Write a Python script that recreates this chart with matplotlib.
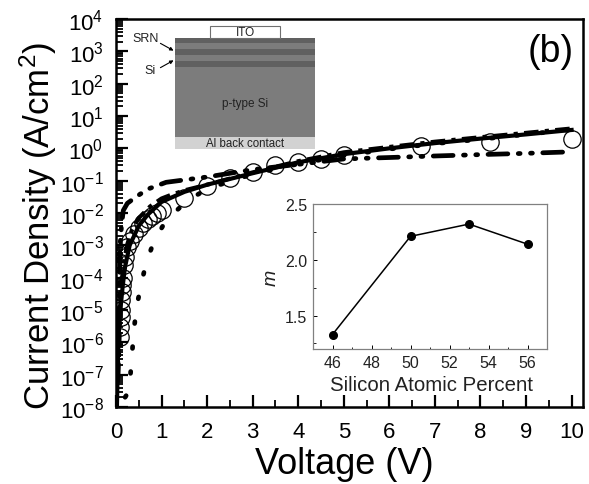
import matplotlib
matplotlib.use('Agg')
import matplotlib.pyplot as plt
import matplotlib.patches as mpatches
from matplotlib.ticker import LogLocator, MultipleLocator, NullFormatter, FixedLocator

plt.rcParams['font.family'] = ['Liberation Sans', 'DejaVu Sans']
plt.rcParams['mathtext.fontset'] = 'custom'
plt.rcParams['mathtext.rm'] = 'Liberation Sans'
plt.rcParams['mathtext.it'] = 'Liberation Sans:italic'

W, H = 589, 485

# main panel
solid_v = [0.02, 0.05, 0.08, 0.1, 0.15, 0.2, 0.3, 0.5, 0.7, 1.0, 1.5, 2.0, 3.0, 4.0, 5.0, 6.0, 7.0, 8.0, 9.0, 10.0]
solid_j = [1e-8, 1e-6, 6e-6, 1.2e-5, 6e-5, 2.2e-4, 1e-3, 4e-3, 9e-3, 2.2e-2, 4.5e-2, 7.5e-2, 0.17, 0.37, 0.66, 1.0, 1.45, 2.0, 2.7, 3.7]

low_slope_v = [0.03, 0.05, 0.07, 0.09, 0.12, 0.16, 0.25, 0.46, 0.7, 1.1, 2.0, 3.0, 4.0, 5.0, 6.0, 7.0, 8.0, 9.0, 10.0]
low_slope_j = [6e-8, 6e-7, 1e-5, 1e-3, 4e-3, 1.2e-2, 2e-2, 3.3e-2, 5.5e-2, 8.9e-2, 0.13, 0.22, 0.32, 0.47, 0.52, 0.58, 0.64, 0.7, 0.78]

steep_v = [0.2, 0.28, 0.33, 0.36, 0.4, 0.46, 0.55, 0.66, 0.83, 1.1, 1.55, 2.0, 3.0, 4.0, 5.0, 6.0, 7.0, 8.0, 9.0, 10.0]
steep_j = [2e-8, 3e-8, 1.6e-7, 6e-7, 3e-6, 1.4e-5, 6e-5, 2.8e-4, 1.3e-3, 6e-3, 2.3e-2, 5.6e-2, 0.16, 0.33, 0.6, 0.95, 1.4, 1.9, 2.7, 3.8]

dash_v = [0.05, 0.08, 0.1, 0.14, 0.18, 0.25, 0.35, 0.5, 0.75, 1.0, 1.2, 1.5, 2.0, 3.0, 4.0, 5.0, 6.0, 7.0, 8.0, 9.0, 10.0]
dash_j = [8e-8, 2e-6, 3e-5, 1.2e-4, 3.5e-4, 1.1e-3, 3e-3, 7e-3, 1.6e-2, 2.8e-2, 3.6e-2, 5e-2, 7.5e-2, 0.18, 0.4, 0.75, 1.1, 1.6, 2.2, 3.0, 4.1]

circle_v = [0.08, 0.09, 0.1, 0.11, 0.12, 0.13, 0.14, 0.15, 0.17, 0.2, 0.25, 0.3, 0.4, 0.5, 0.6, 0.7, 0.8, 0.9, 1.0, 1.5, 2.0, 2.5, 3.0, 3.5, 4.0, 4.5, 5.0, 6.7, 8.2, 10.0]
circle_j = [1.5e-6, 3e-6, 6e-6, 1e-5, 2e-5, 3.5e-5, 6e-5, 1e-4, 2.5e-4, 4.5e-4, 9e-4, 1.4e-3, 2.3e-3, 3.5e-3, 5e-3, 6.5e-3, 8e-3, 1e-2, 1.2e-2, 3e-2, 6.8e-2, 0.125, 0.19, 0.3, 0.37, 0.48, 0.63, 1.2, 1.6, 1.9]

# inset panel
si_percent = [46, 50, 53, 56]
m_values = [1.33, 2.21, 2.32, 2.14]

fig = plt.figure(figsize=(W / 100, H / 100), dpi=100, facecolor='white')


def px_axes(left, top, right, bottom):
    return fig.add_axes([left / W, 1 - bottom / H, (right - left) / W, (bottom - top) / H])


ax = px_axes(116, 20, 583, 408)
ax.plot(solid_v, solid_j, color='black', lw=3.0, zorder=4)
ax.plot(low_slope_v, low_slope_j, color='black', lw=3.4, dashes=(4.2, 2.2, 0.4, 2.2, 0.4, 2.2), dash_capstyle='round', zorder=3)
ax.plot(steep_v, steep_j, color='black', lw=3.4, dashes=(0.4, 4.9), dash_capstyle='round', zorder=3)
ax.plot(dash_v, dash_j, color='black', lw=3.0, dashes=(3.5, 1.5, 1, 1.5), zorder=3)
ax.plot(circle_v, circle_j, ls='none', marker='o', mfc='none', mec='black', ms=12.5, mew=0.9, zorder=5)

ax.set_yscale('log')
ax.set_xlim(0, 10.25)
ax.set_ylim(1e-8, 1e4)
ax.xaxis.set_major_locator(MultipleLocator(1))
ax.xaxis.set_minor_locator(MultipleLocator(0.5))
ax.yaxis.set_major_locator(LogLocator(base=10, numticks=20))
ax.yaxis.set_minor_locator(LogLocator(base=10, subs=[2, 3, 4, 5, 6, 7, 8, 9], numticks=20))
ax.yaxis.set_minor_formatter(NullFormatter())
ax.tick_params(axis='both', which='major', direction='in', length=8.3, width=1.6, labelsize=16)
ax.tick_params(axis='x', which='major', pad=10)
ax.tick_params(axis='y', which='major', pad=9)
ax.tick_params(axis='both', which='minor', direction='in', length=4.7, width=1.3)
for s in ax.spines.values():
    s.set_linewidth(1.8)
ax.set_xlabel('Voltage (V)', fontsize=26, labelpad=3, x=0.489)
ax.set_ylabel('Current Density (A/cm$^2$)', fontsize=25, labelpad=0, y=0.47)
ax.text(0.98, 0.893, '(b)', transform=ax.transAxes, ha='right', va='baseline', fontsize=27)

# line inset
ins = px_axes(313, 205, 547, 350)
ins.plot(si_percent, m_values, color='black', lw=1.1, marker='o', ms=5.5)
ins.set_xlim(45, 57)
ins.set_ylim(1.2, 2.5)
ins.xaxis.set_major_locator(MultipleLocator(2))
ins.xaxis.set_minor_locator(MultipleLocator(1))
ins.yaxis.set_major_locator(FixedLocator([1.5, 2.0, 2.5]))
ins.yaxis.set_minor_locator(FixedLocator([1.25, 1.75, 2.25]))
ins.set_yticklabels(['1.5', '2.0', '2.5'])
ins.tick_params(axis='both', which='major', direction='in', length=3, width=0.7, labelsize=11.5, labelcolor='#222222', pad=4)
ins.tick_params(axis='both', which='minor', direction='in', length=1.8, width=0.6)
for s in ins.spines.values():
    s.set_linewidth(0.9)
    s.set_color('#808080')
ins.set_xlabel('Silicon Atomic Percent', fontsize=14.7, labelpad=4, color='#222222', x=0.505)
ins.set_ylabel('m', fontsize=14, style='italic', labelpad=4, color='#222222')

# device schematic, pixel coordinates
sk = fig.add_axes([0, 0, 1, 1], facecolor='none')
sk.set_xlim(0, W)
sk.set_ylim(H, 0)
sk.axis('off')
layers = [(39, 138, '#7c7c7c'), (39, 44, '#606060'), (50, 56, '#606060'), (62, 68, '#606060'), (138, 150, '#d2d2d2')]
for y0, y1, c in layers:
    sk.add_patch(mpatches.Rectangle((175, y0), 140, y1 - y0, fc=c, ec='none'))
sk.add_patch(mpatches.Rectangle((210, 27), 70, 12, fc='white', ec='#707070', lw=0.8))
sk.text(245, 33.5, 'ITO', ha='center', va='center', fontsize=8.5, color='#222222')
sk.text(245, 104, 'p-type Si', ha='center', va='center', fontsize=8.5, color='#222222')
sk.text(245, 144, 'Al back contact', ha='center', va='center', fontsize=8.3, color='#222222')
sk.text(132, 39, 'SRN', ha='left', va='center', fontsize=9, color='#222222')
sk.text(144, 71, 'Si', ha='left', va='center', fontsize=9, color='#222222')
sk.annotate('', xy=(176, 53), xytext=(158, 43), arrowprops=dict(arrowstyle='-|>', lw=0.8, color='black', mutation_scale=5))
sk.annotate('', xy=(176, 60), xytext=(158, 70), arrowprops=dict(arrowstyle='-|>', lw=0.8, color='black', mutation_scale=5))

fig.savefig('out.png', dpi=100, facecolor='white')
plt.close()
